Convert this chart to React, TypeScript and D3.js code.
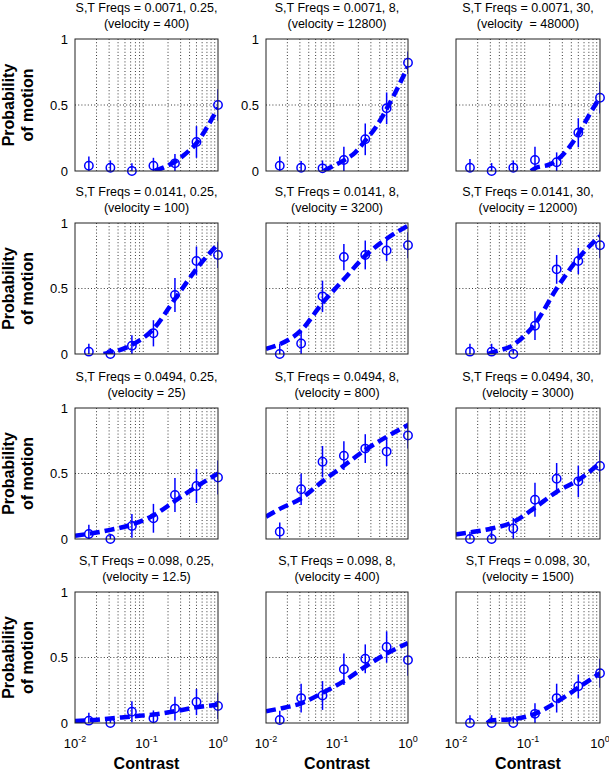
import * as d3 from "d3";

// contrast levels tested (same for every panel)
const contrasts = [0.015625, 0.03125, 0.0625, 0.125, 0.25, 0.5, 1];

const spatialFreqs = ["0.0071", "0.0141", "0.0494", "0.098"];
const temporalFreqs = ["0.25", "8", "30"];
const velocities = [
  ["400", "12800", " 48000"],
  ["100", "3200", "12000"],
  ["25", "800", "3000"],
  ["12.5", "400", "1500"],
];

// observed probability of motion, one row per panel (row-major)
const probs = [
  [0.04, 0.025, 0.0, 0.04, 0.058, 0.22, 0.5],
  [0.04, 0.025, 0.02, 0.083, 0.24, 0.475, 0.82],
  [0.025, 0.0, 0.025, 0.083, 0.066, 0.29, 0.555],
  [0.018, 0.0, 0.063, 0.158, 0.45, 0.71, 0.756],
  [0.0, 0.08, 0.44, 0.74, 0.756, 0.79, 0.83],
  [0.018, 0.018, 0.0, 0.216, 0.646, 0.71, 0.83],
  [0.038, 0.0, 0.1, 0.158, 0.336, 0.405, 0.47],
  [0.056, 0.38, 0.59, 0.636, 0.69, 0.667, 0.79],
  [0.0, 0.0, 0.08, 0.3, 0.46, 0.44, 0.557],
  [0.018, 0.0, 0.086, 0.036, 0.11, 0.16, 0.13],
  [0.023, 0.19, 0.21, 0.41, 0.49, 0.58, 0.48],
  [0.0, 0.0, 0.0, 0.07, 0.19, 0.28, 0.38],
];

// half-length of error bars
const errs = [
  [0.07, 0.055, 0.058, 0.06, 0.07, 0.12, 0.12],
  [0.07, 0.05, 0.06, 0.1, 0.12, 0.12, 0.085],
  [0.065, 0.06, 0.055, 0.1, 0.075, 0.11, 0.12],
  [0.06, 0.045, 0.08, 0.1, 0.13, 0.11, 0.1],
  [0.08, 0.1, 0.12, 0.1, 0.11, 0.08, 0.1],
  [0.06, 0.06, 0.04, 0.11, 0.11, 0.1, 0.1],
  [0.07, 0.04, 0.09, 0.11, 0.13, 0.13, 0.13],
  [0.07, 0.12, 0.12, 0.11, 0.11, 0.11, 0.1],
  [0.056, 0.094, 0.08, 0.13, 0.12, 0.12, 0.12],
  [0.06, 0.03, 0.08, 0.06, 0.09, 0.1, 0.1],
  [0.07, 0.11, 0.11, 0.12, 0.11, 0.12, 0.12],
  [0.06, 0.06, 0.05, 0.08, 0.11, 0.09, 0.11],
];

// fitted curves (contrast, probability)
const fitX = [
  [0.13, 0.18, 0.25, 0.35, 0.5, 0.7, 1],
  [0.065, 0.09, 0.125, 0.18, 0.25, 0.35, 0.5, 0.7, 1],
  [0.11, 0.125, 0.2, 0.25, 0.35, 0.5, 0.7, 1],
  [0.025, 0.03125, 0.0625, 0.125, 0.25, 0.5, 1],
  [0.01, 0.015625, 0.03125, 0.0625, 0.125, 0.25, 0.5, 1],
  [0.028, 0.03125, 0.0625, 0.125, 0.25, 0.5, 1],
  [0.01, 0.015625, 0.03125, 0.0625, 0.125, 0.25, 0.5, 1],
  [0.01, 0.015625, 0.03125, 0.0625, 0.125, 0.25, 0.5, 1],
  [0.01, 0.015625, 0.03125, 0.0625, 0.125, 0.25, 0.5, 1],
  [0.01, 0.015625, 0.03125, 0.0625, 0.125, 0.25, 0.5, 1],
  [0.01, 0.015625, 0.03125, 0.0625, 0.125, 0.25, 0.5, 1],
  [0.027, 0.03125, 0.0625, 0.125, 0.25, 0.5, 1],
];
const fitY = [
  [0.0, 0.03, 0.07, 0.13, 0.21, 0.33, 0.48],
  [0.0, 0.04, 0.08, 0.14, 0.23, 0.33, 0.47, 0.62, 0.79],
  [0.0, 0.02, 0.05, 0.08, 0.16, 0.28, 0.42, 0.56],
  [0.0, 0.01, 0.07, 0.19, 0.42, 0.65, 0.84],
  [0.04, 0.075, 0.18, 0.39, 0.57, 0.75, 0.88, 0.98],
  [0.0, 0.01, 0.07, 0.23, 0.5, 0.73, 0.9],
  [0.025, 0.04, 0.07, 0.11, 0.18, 0.29, 0.4, 0.5],
  [0.17, 0.23, 0.31, 0.44, 0.56, 0.68, 0.78, 0.87],
  [0.035, 0.05, 0.08, 0.13, 0.24, 0.36, 0.45, 0.58],
  [0.015, 0.02, 0.035, 0.05, 0.065, 0.09, 0.12, 0.14],
  [0.09, 0.11, 0.15, 0.23, 0.32, 0.43, 0.53, 0.61],
  [0.0, 0.02, 0.03, 0.07, 0.16, 0.27, 0.38],
];

const yTicks = [0, 0.5, 1];
const xTickExps = [-2, -1, 0];

const W = 609;
const H = 772;
const colX: [number, number][] = [
  [75, 218],
  [266, 408],
  [456, 600],
];
const rowY: [number, number][] = [
  [39, 171],
  [223, 354],
  [408, 539],
  [592, 723],
];

const BLUE = "#0000ff";
const FONT = "'Liberation Sans', Arial, Helvetica, sans-serif";

const minorTicks = d3
  .range(-2, 0)
  .flatMap((e) => d3.range(2, 10).map((m) => m * Math.pow(10, e)));

function Panel({ r, c }: { r: number; c: number }) {
  const i = r * 3 + c;
  const [x0, x1] = colX[c];
  const [y0, y1] = rowY[r];
  const x = d3.scaleLog().domain([0.01, 1]).range([x0, x1]);
  const y = d3.scaleLinear().domain([0, 1]).range([y1, y0]);
  const clipId = `clip-${i}`;

  const pts = fitX[i].map((cx, k) => [cx, fitY[i][k]] as [number, number]);
  const line = d3
    .line<[number, number]>()
    .x((d) => x(d[0]))
    .y((d) => y(d[1]))
    .curve(d3.curveMonotoneX);

  const cx = (x0 + x1) / 2;
  const showY = c === 0 || (c === 1 && r === 0);
  const showX = r === 3;

  return (
    <g>
      <defs>
        <clipPath id={clipId}>
          <rect x={x0} y={y0} width={x1 - x0} height={y1 - y0} />
        </clipPath>
      </defs>
      <rect x={x0} y={y0} width={x1 - x0} height={y1 - y0} fill="#fff" />
      {/* grid */}
      <g stroke="#222" strokeWidth={0.9} strokeDasharray="1,2.2">
        {minorTicks.map((t) => (
          <line key={t} x1={x(t)} x2={x(t)} y1={y0} y2={y1} />
        ))}
        <line x1={x0} x2={x1} y1={y(0.5)} y2={y(0.5)} />
      </g>
      {/* fit */}
      <path
        d={line(pts) ?? ""}
        fill="none"
        stroke={BLUE}
        strokeWidth={4.5}
        strokeDasharray="10,5"
        clipPath={`url(#${clipId})`}
      />
      {/* error bars */}
      <g stroke={BLUE} strokeWidth={1.5} clipPath={`url(#${clipId})`}>
        {contrasts.map((ct, k) => (
          <line
            key={k}
            x1={x(ct)}
            x2={x(ct)}
            y1={y(probs[i][k] - errs[i][k])}
            y2={y(probs[i][k] + errs[i][k])}
          />
        ))}
      </g>
      {contrasts.map((ct, k) => (
        <circle
          key={k}
          cx={x(ct)}
          cy={y(probs[i][k])}
          r={4.2}
          fill="none"
          stroke={BLUE}
          strokeWidth={1.5}
        />
      ))}
      <rect
        x={x0}
        y={y0}
        width={x1 - x0}
        height={y1 - y0}
        fill="none"
        stroke="#222"
        strokeWidth={1}
      />
      {/* title */}
      <text x={cx} y={y0 - 27.5} textAnchor="middle" fontSize={12.5} fontFamily={FONT}>
        {`S,T Freqs = ${spatialFreqs[r]}, ${temporalFreqs[c]},`}
      </text>
      <text
        x={cx}
        y={y0 - 11.5}
        textAnchor="middle"
        fontSize={12.5}
        fontFamily={FONT}
        style={{ whiteSpace: "pre" }}
      >
        {`(velocity ${velocities[r][c].startsWith(" ") ? " " : ""}= ${velocities[r][c].trim()})`}
      </text>
      {showY &&
        yTicks.map((t) => (
          <text
            key={t}
            x={x0 - 7}
            y={y(t) + 4.5}
            textAnchor="end"
            fontSize={13}
            fontFamily={FONT}
          >
            {t}
          </text>
        ))}
      {c === 0 && (
        <g fontSize={16} fontWeight="bold" fontFamily={FONT} textAnchor="middle">
          <text transform={`translate(13.5,${(y0 + y1) / 2}) rotate(-90)`}>Probability</text>
          <text transform={`translate(32.5,${(y0 + y1) / 2}) rotate(-90)`}>of motion</text>
        </g>
      )}
      {showX && (
        <g fontFamily={FONT}>
          {xTickExps.map((e) => (
            <text key={e} x={x(Math.pow(10, e))} y={748} textAnchor="middle" fontSize={13}>
              <tspan>10</tspan>
              <tspan dy={-6} fontSize={9}>
                {String(e)}
              </tspan>
            </text>
          ))}
          <text x={cx} y={769} textAnchor="middle" fontSize={16} fontWeight="bold">
            Contrast
          </text>
        </g>
      )}
    </g>
  );
}

export default function App() {
  return (
    <svg
      width={W}
      height={H}
      style={{ position: "absolute", left: 0, top: 0, background: "#fff" }}
    >
      <rect width={W} height={H} fill="#fff" />
      {rowY.map((_, r) =>
        colX.map((__, c) => <Panel key={`${r}-${c}`} r={r} c={c} />)
      )}
    </svg>
  );
}
